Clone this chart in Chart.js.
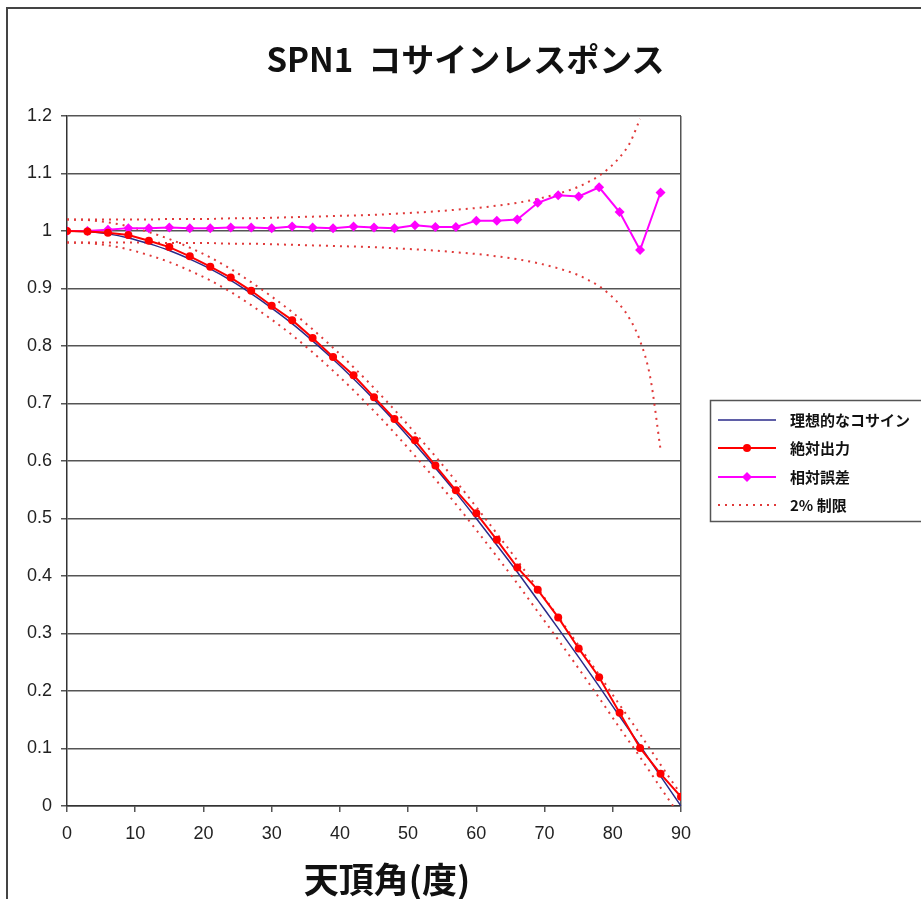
<!DOCTYPE html>
<html>
<head>
<meta charset="utf-8">
<script src="https://cdn.jsdelivr.net/npm/chart.js@4.4.1/dist/chart.umd.min.js"></script>
<style>
  body { margin: 0; background: #fff; }
  #wrap { position: relative; width: 921px; height: 899px; overflow: hidden; }
  #frame { position: absolute; left: 6px; top: 7px; width: 1000px; height: 1000px;
           border-left: 2px solid #444; border-top: 2px solid #444; }
  #title { position: absolute; left: 5px; width: 921px; top: 42px; text-align: center;
           font-family: "Noto Sans CJK JP", sans-serif; font-weight: bold; font-size: 33px;
           white-space: pre; color: #111; line-height: 1; }
  #xtitle { position: absolute; left: 0; width: 774px; top: 860px; text-align: center;
            font-family: "Noto Sans CJK JP", sans-serif; font-weight: bold; font-size: 35px;
            color: #111; line-height: 1; }
  canvas { position: absolute; left: 0; top: 0; }
</style>
</head>
<body>
<div id="wrap">
  <div id="frame"></div>
  <canvas id="cosine_chart" width="921" height="899"></canvas>
  <div id="title">SPN1  コサインレスポンス</div>
  <div id="xtitle">天頂角(度)</div>
</div>
<script>
// 天頂角 (度)
const angles = [0, 3, 6, 9, 12, 15, 18, 21, 24, 27, 30, 33, 36, 39, 42, 45,
  48, 51, 54, 57, 60, 63, 66, 69, 72, 75, 78, 81, 84, 87, 90];

// 理想的なコサイン
const ideal_cosine = [1.000, 0.999, 0.995, 0.988, 0.978, 0.966, 0.951, 0.934,
  0.914, 0.891, 0.866, 0.839, 0.809, 0.777, 0.743, 0.707, 0.669, 0.629, 0.588,
  0.545, 0.500, 0.454, 0.407, 0.358, 0.309, 0.259, 0.208, 0.156, 0.105, 0.052, 0.000];

// 絶対出力
const abs_output = [1.000, 0.999, 0.997, 0.993, 0.983, 0.972, 0.956, 0.938,
  0.919, 0.896, 0.870, 0.845, 0.814, 0.781, 0.749, 0.711, 0.673, 0.636, 0.592,
  0.549, 0.509, 0.463, 0.415, 0.376, 0.328, 0.274, 0.224, 0.162, 0.101, 0.056, 0.016];

// 相対誤差 (0 - 87度)
const rel_angles = angles.slice(0, 30);
const rel_error = [1.000, 1.000, 1.002, 1.005, 1.005, 1.006, 1.005, 1.005,
  1.006, 1.006, 1.005, 1.008, 1.006, 1.005, 1.008, 1.006, 1.005, 1.010, 1.007,
  1.007, 1.018, 1.018, 1.020, 1.049, 1.062, 1.060, 1.076, 1.033, 0.967, 1.067];

// 2% 制限 (コサイン周り)
const cos_upper = [1.020, 1.019, 1.015, 1.008, 0.998, 0.986, 0.971, 0.954,
  0.934, 0.911, 0.886, 0.859, 0.829, 0.797, 0.763, 0.727, 0.689, 0.649, 0.608,
  0.565, 0.520, 0.474, 0.427, 0.378, 0.329, 0.279, 0.228, 0.176, 0.125, 0.072, 0.020];
const cos_lower = [0.980, 0.979, 0.975, 0.968, 0.958, 0.946, 0.931, 0.914,
  0.894, 0.871, 0.846, 0.819, 0.789, 0.757, 0.723, 0.687, 0.649, 0.609, 0.568,
  0.525, 0.480, 0.434, 0.387, 0.338, 0.289, 0.239, 0.188, 0.136, 0.085, 0.032, -0.020];

// 2% 制限 (相対誤差周り)
const rel_upper_angles = [0, 3, 6, 9, 12, 15, 18, 21, 24, 27, 30, 33, 36, 39, 42,
  45, 48, 51, 54, 57, 60, 63, 66, 69, 72, 75, 76.5, 78, 79.5, 81, 82.5, 84];
const rel_upper = [1.020, 1.020, 1.020, 1.020, 1.020, 1.021, 1.021, 1.021, 1.022,
  1.022, 1.023, 1.024, 1.025, 1.026, 1.027, 1.028, 1.030, 1.032, 1.034, 1.037,
  1.040, 1.044, 1.049, 1.056, 1.065, 1.077, 1.086, 1.096, 1.110, 1.128, 1.153, 1.195];
const rel_lower_angles = rel_upper_angles.concat([85.5, 87]);
const rel_lower = [0.980, 0.980, 0.980, 0.980, 0.980, 0.979, 0.979, 0.979, 0.978,
  0.978, 0.977, 0.976, 0.975, 0.974, 0.973, 0.972, 0.970, 0.968, 0.966, 0.963,
  0.960, 0.956, 0.951, 0.944, 0.935, 0.923, 0.914, 0.904, 0.890, 0.872, 0.847,
  0.809, 0.745, 0.620];

const y_ticks = [0, 0.1, 0.2, 0.3, 0.4, 0.5, 0.6, 0.7, 0.8, 0.9, 1, 1.1, 1.2];
const legend_names = ["理想的なコサイン", "絶対出力", "相対誤差", "2% 制限"];

const RED = "#ff0000";
const PINK = "#ff00ff";
const NAVY = "#2a2a8a";
const DOT = "#e03a3a";

function pts(xs, ys) {
  return xs.map((x, i) => ({ x: x, y: ys[i] }));
}

function limitSet(xs, ys) {
  return {
    data: pts(xs, ys),
    borderColor: DOT,
    borderWidth: 2,
    borderDash: [2, 5],
    pointRadius: 0,
    cubicInterpolationMode: "monotone",
    fill: false,
  };
}

// 凡例 (枠付き)
const legendBox = {
  id: "legendBox",
  afterDraw(chart) {
    const c = chart.ctx;
    c.save();
    c.strokeStyle = "#555";
    c.lineWidth = 1.5;
    c.strokeRect(710.5, 400.5, 230, 121);

    const rows = [420, 448, 477, 505];
    const x0 = 718, x1 = 776, xm = 747;
    // 理想的なコサイン
    c.strokeStyle = NAVY; c.lineWidth = 1.5;
    c.beginPath(); c.moveTo(x0, rows[0]); c.lineTo(x1, rows[0]); c.stroke();
    // 絶対出力
    c.strokeStyle = RED; c.lineWidth = 2;
    c.beginPath(); c.moveTo(x0, rows[1]); c.lineTo(x1, rows[1]); c.stroke();
    c.fillStyle = RED;
    c.beginPath(); c.arc(xm, rows[1], 4, 0, Math.PI * 2); c.fill();
    // 相対誤差
    c.strokeStyle = PINK;
    c.beginPath(); c.moveTo(x0, rows[2]); c.lineTo(x1, rows[2]); c.stroke();
    c.fillStyle = PINK;
    c.beginPath();
    c.moveTo(xm, rows[2] - 5); c.lineTo(xm + 5, rows[2]);
    c.lineTo(xm, rows[2] + 5); c.lineTo(xm - 5, rows[2]);
    c.closePath(); c.fill();
    // 2% 制限
    c.strokeStyle = DOT; c.setLineDash([2, 5]);
    c.beginPath(); c.moveTo(x0, rows[3]); c.lineTo(x1, rows[3]); c.stroke();
    c.setLineDash([]);

    c.fillStyle = "#111";
    c.font = "bold 15px 'Noto Sans CJK JP'";
    c.textBaseline = "middle";
    legend_names.forEach((name, i) => {
      c.fillText(name, 790, rows[i]);
    });
    c.restore();
  },
};

const ctx_cos = document.getElementById("cosine_chart").getContext("2d");
let chart = new Chart(ctx_cos, {
  type: "line",
  data: {
    datasets: [
      {
        label: legend_names[1],
        data: pts(angles, abs_output),
        borderColor: RED,
        backgroundColor: RED,
        borderWidth: 2,
        pointStyle: "circle",
        pointRadius: 4,
        pointBorderWidth: 0,
        tension: 0,
        fill: false,
      },
      {
        label: legend_names[2],
        data: pts(rel_angles, rel_error),
        borderColor: PINK,
        backgroundColor: PINK,
        borderWidth: 2,
        pointStyle: "rectRot",
        pointRadius: 5,
        pointBorderWidth: 0,
        tension: 0,
        fill: false,
      },
      {
        label: legend_names[0],
        data: pts(angles, ideal_cosine),
        borderColor: NAVY,
        borderWidth: 1.5,
        pointRadius: 0,
        cubicInterpolationMode: "monotone",
        fill: false,
      },
      limitSet(angles, cos_upper),
      limitSet(angles, cos_lower),
      limitSet(rel_upper_angles, rel_upper),
      limitSet(rel_lower_angles, rel_lower),
    ],
  },
  options: {
    responsive: false,
    animation: false,
    layout: { padding: { top: 116, right: 240, left: 0, bottom: 0 } },
    plugins: {
      legend: { display: false },
      tooltip: { enabled: false },
      title: { display: false },
    },
    scales: {
      x: {
        type: "linear",
        min: 0,
        max: 90,
        afterFit: (scale) => { scale.height = 93; },
        ticks: {
          stepSize: 10,
          padding: 11,
          color: "#222",
          font: { family: "'Liberation Sans', Arial", size: 18 },
        },
        grid: {
          color: (c) => (c.tick && c.tick.value === 90 ? "#555" : "rgba(0,0,0,0)"),
          lineWidth: 1.5,
          tickColor: "#555",
          tickLength: 6,
        },
        border: { color: "#333", width: 1.5 },
      },
      y: {
        min: 0,
        max: 1.2,
        afterFit: (scale) => { scale.width = 67; },
        afterBuildTicks: (scale) => {
          scale.ticks = y_ticks.map((v) => ({ value: v }));
        },
        ticks: {
          padding: 9,
          color: "#222",
          font: { family: "'Liberation Sans', Arial", size: 18 },
          callback: (v) => String(Number(v.toFixed(1))),
        },
        grid: {
          color: "#555",
          lineWidth: 1.5,
          tickColor: "#555",
          tickLength: 6,
        },
        border: { color: "#333", width: 1.5 },
      },
    },
  },
  plugins: [legendBox],
});
</script>
</body>
</html>
